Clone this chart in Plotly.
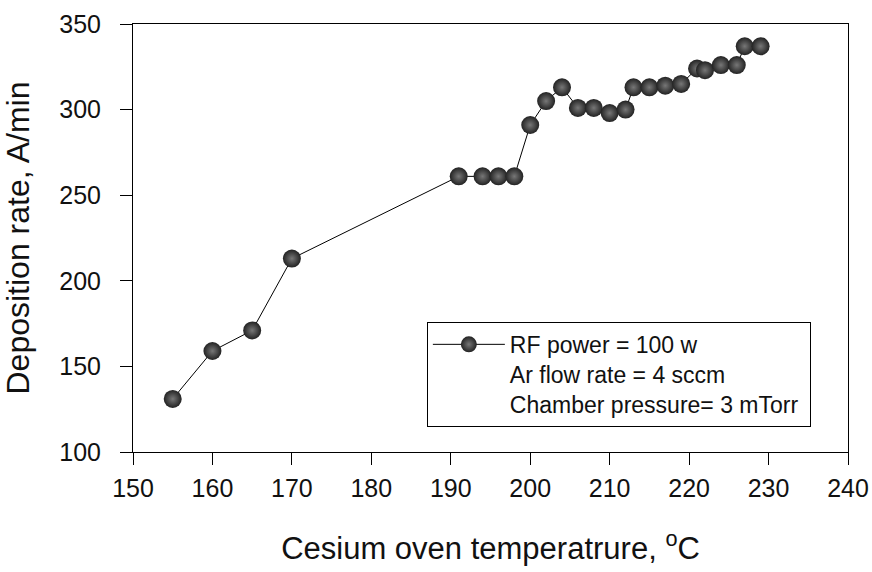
import plotly.graph_objects as go

temperature = [155, 160, 165, 170, 191, 194, 196, 198, 200, 202, 204, 206, 208,
               210, 212, 213, 215, 217, 219, 221, 222, 224, 226, 227, 229]
deposition_rate = [131, 159, 171, 213, 261, 261, 261, 261, 291, 305, 313, 301, 301,
                   298, 300, 313, 313, 314, 315, 324, 323, 326, 326, 337, 337]

x_ticks = [150, 160, 170, 180, 190, 200, 210, 220, 230, 240]
y_ticks = [100, 150, 200, 250, 300, 350]

series_name = "RF power = 100 w<br>Ar flow rate = 4 sccm<br>Chamber pressure= 3 mTorr&nbsp;"

FONT = "Liberation Sans, Arial, sans-serif"

fig = go.Figure()
fig.add_trace(go.Scatter(
    x=temperature, y=deposition_rate, mode="lines+markers", name=series_name,
    line=dict(color="black", width=1),
    marker=dict(size=18, color="#222222", symbol="circle",
                gradient=dict(type="radial", color="#777777"),
                line=dict(width=0)),
))

fig.update_layout(
    width=872, height=572,
    margin=dict(l=133, r=24, t=24, b=120),
    paper_bgcolor="white", plot_bgcolor="white",
    font=dict(family=FONT, color="black"),
    showlegend=True,
    legend=dict(x=0.411, y=0.304, xanchor="left", yanchor="top",
                bgcolor="white", bordercolor="black", borderwidth=1,
                font=dict(size=23, family=FONT, color="#111"),
                valign="top", itemwidth=72, tracegroupgap=0),
)
fig.update_xaxes(
    range=[150, 240], tickvals=x_ticks, ticktext=[str(v) for v in x_ticks],
    showgrid=False, zeroline=False, automargin=False,
    showline=True, linecolor="black", linewidth=1, mirror=True,
    ticks="outside", ticklen=12, tickcolor="black", tickwidth=1,
    ticklabelstandoff=2,
    tickfont=dict(size=25, family=FONT, color="#111"),
    title=dict(text="Cesium oven temperatrure, <sup>o</sup>C",
               font=dict(size=31, family=FONT, color="#111"), standoff=36),
)
fig.update_yaxes(
    range=[100, 350], tickvals=y_ticks, ticktext=[str(v) for v in y_ticks],
    showgrid=False, zeroline=False, automargin=False,
    showline=True, linecolor="black", linewidth=1, mirror=True,
    ticks="outside", ticklen=12, tickcolor="black", tickwidth=1,
    ticklabelstandoff=14,
    tickfont=dict(size=25, family=FONT, color="#111"),
    title=dict(text="Deposition rate, A/min",
               font=dict(size=32, family=FONT, color="#111"), standoff=24),
)

fig.write_html("out.html", config={"displayModeBar": False},
               post_script="document.body.style.margin='0px';")
